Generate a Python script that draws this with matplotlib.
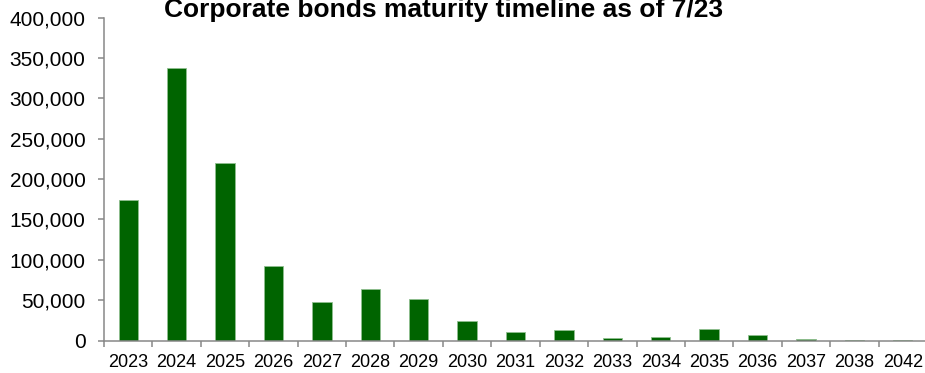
import matplotlib
matplotlib.use("Agg")
import matplotlib.pyplot as plt
from matplotlib.ticker import FuncFormatter, FixedLocator

plt.rcParams['font.family'] = ['Liberation Sans', 'DejaVu Sans']

# объём погашений по годам
years = ["2023", "2024", "2025", "2026", "2027", "2028", "2029", "2030", "2031",
         "2032", "2033", "2034", "2035", "2036", "2037", "2038", "2042"]
amounts = [174000, 337000, 219500, 92800, 47500, 64000, 51500, 24500, 10800,
           12800, 2800, 4000, 14200, 6500, 1500, 200, 100]

fig = plt.figure(figsize=(9.25, 3.73), dpi=100)
ax = fig.add_axes([104 / 925, 1 - 340.5 / 373, 823 / 925, 323 / 373])

pos = list(range(len(years)))
ax.bar(pos, amounts, width=0.4, color="#006400", edgecolor="#8fbf8f", linewidth=0.6)

ax.set_xlim(-0.5, len(years) - 0.5)
ax.set_ylim(0, 400000)
ax.set_yticks(range(0, 400001, 50000))
ax.yaxis.set_major_formatter(FuncFormatter(lambda v, p: f"{int(v):,}"))

# подписи годов по центру, засечки между столбцами
ax.set_xticks(pos)
ax.set_xticklabels(years)
ax.xaxis.set_minor_locator(FixedLocator([p - 0.5 for p in pos] + [len(years) - 0.5]))
ax.tick_params(axis="x", which="major", length=0, pad=10, labelsize=13)
ax.tick_params(axis="x", which="minor", length=4.3, width=1.1, color="#888888", direction="out")
ax.tick_params(axis="y", length=4.3, width=1.1, color="#888888", pad=9, labelsize=15)

for s in ["top", "right"]:
    ax.spines[s].set_visible(False)
for s in ["left", "bottom"]:
    ax.spines[s].set_color("#888888")
    ax.spines[s].set_linewidth(1.1)

fig.text(444 / 925, 1 - 17 / 373, "Corporate bonds maturity timeline as of 7/23",
         ha="center", va="baseline", fontsize=19, fontweight="bold")

fig.savefig("out.png", dpi=100)
